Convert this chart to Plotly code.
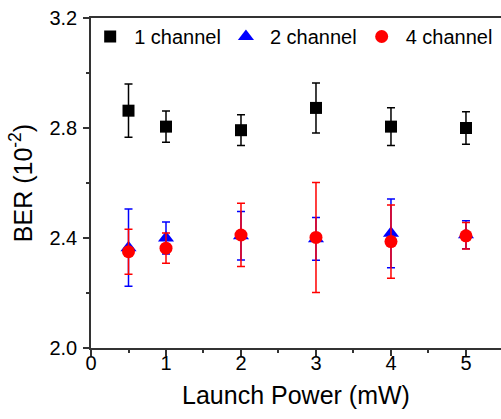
import plotly.graph_objects as go

power = [0.5, 1, 2, 3, 4, 5]

ber_1ch = [2.863, 2.805, 2.792, 2.873, 2.805, 2.800]
err_1ch = [0.097, 0.057, 0.056, 0.091, 0.069, 0.059]

ber_2ch = [2.365, 2.400, 2.408, 2.397, 2.417, 2.412]
err_2ch = [0.140, 0.058, 0.088, 0.078, 0.125, 0.051]

ber_4ch = [2.350, 2.363, 2.411, 2.402, 2.387, 2.408]
err_4ch = [0.082, 0.055, 0.115, 0.200, 0.133, 0.048]

series = [
    ("\u20091 channel", ber_1ch, err_1ch, "#000000", "square", 12),
    ("\u20092 channel", ber_2ch, err_2ch, "#0000FF", "triangle-up", 14),
    ("\u20094 channel", ber_4ch, err_4ch, "#FF0000", "circle", 13),
]

fig = go.Figure()
for name, y, e, color, sym, size in series:
    fig.add_trace(go.Scatter(
        x=power, y=y, name=name, mode="markers",
        marker=dict(symbol=sym, size=size, color=color, line=dict(width=0)),
        error_y=dict(type="data", array=e, visible=True, color=color,
                     thickness=1.5, width=4),
    ))

font_family = "Liberation Sans, Arial, sans-serif"
fig.update_layout(
    width=501, height=419,
    margin=dict(l=91, r=0, t=18, b=71, autoexpand=False),
    plot_bgcolor="white", paper_bgcolor="white",
    font=dict(family=font_family, color="black", size=20),
    showlegend=True,
    legend=dict(orientation="h", x=-0.002, y=1.003, xanchor="left", yanchor="top",
                font=dict(size=20, family=font_family),
                bgcolor="rgba(0,0,0,0)", itemwidth=30, tracegroupgap=0),
    xaxis=dict(
        range=[0, 5.467], dtick=1, tick0=0, automargin=False,
        showline=True, linecolor="#333333", linewidth=1.5, mirror=True,
        ticks="outside", ticklen=6, tickwidth=1.5, tickcolor="#333333",
        minor=dict(dtick=0.5, ticks="outside", ticklen=3, tickwidth=1.5, tickcolor="#333333"),
        showgrid=False, zeroline=False,
        tickfont=dict(size=20), ticklabelstandoff=-10,
        title=dict(text="Launch Power (mW)", font=dict(size=25), standoff=14),
    ),
    yaxis=dict(
        range=[2.0, 3.2], dtick=0.4, tick0=2.0, tickformat=".1f", automargin=False,
        showline=True, linecolor="#333333", linewidth=1.5,
        ticks="outside", ticklen=6, tickwidth=1.5, tickcolor="#333333",
        minor=dict(dtick=0.2, ticks="outside", ticklen=3, tickwidth=1.5, tickcolor="#333333"),
        showgrid=False, zeroline=False,
        tickfont=dict(size=20), ticklabelstandoff=2,
        title=dict(text="BER (10<sup>-2</sup>)", font=dict(size=25), standoff=10),
    ),
)

fig.write_html("out.html",
               config={"displayModeBar": False},
               post_script="document.body.style.margin='0px';document.body.style.overflow='hidden';")
